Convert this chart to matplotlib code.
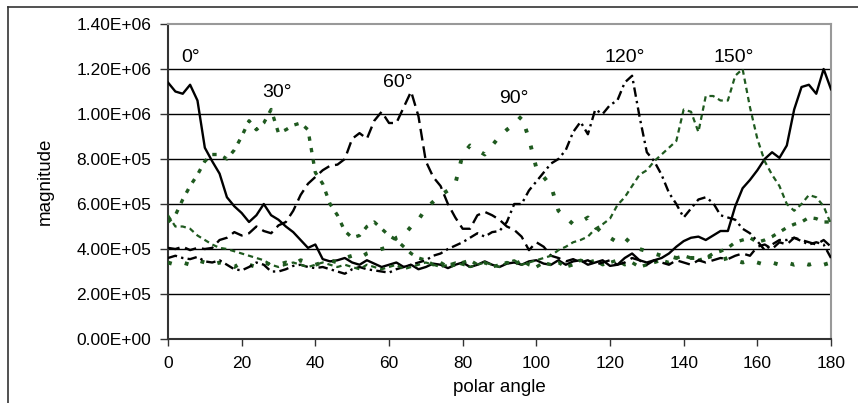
import numpy as np
import matplotlib
matplotlib.use("Agg")
import matplotlib.pyplot as plt
from matplotlib.ticker import FuncFormatter, MultipleLocator
from matplotlib.lines import Line2D

plt.rcParams['font.family'] = ['Liberation Sans', 'DejaVu Sans']

angles = np.arange(0, 181, 2)

# values in units of 1e5
mag_0 = [11.4, 11.0, 10.9, 11.3, 10.6, 8.5, 7.9, 7.35, 6.3, 5.9,
         5.6, 5.2, 5.5, 6.0, 5.5, 5.3, 5.0, 4.75, 4.4, 4.05,
         4.2, 3.55, 3.45, 3.5, 3.6, 3.4, 3.3, 3.5, 3.35, 3.2,
         3.3, 3.4, 3.2, 3.3, 3.1, 3.2, 3.35, 3.3, 3.15, 3.3,
         3.4, 3.2, 3.3, 3.45, 3.3, 3.2, 3.35, 3.4, 3.3, 3.45,
         3.5, 3.35, 3.3, 3.5, 3.3, 3.45, 3.5, 3.3, 3.4, 3.5,
         3.25, 3.3, 3.6, 3.8, 3.5, 3.4, 3.5, 3.6, 3.8, 4.1,
         4.35, 4.5, 4.55, 4.4, 4.6, 4.8, 4.8, 5.9, 6.7, 7.07,
         7.5, 8.0, 8.3, 8.05, 8.6, 10.2, 11.2, 11.3, 10.9, 12.0,
         11.1]
mag_30 = [5.2, 5.5, 6.2, 6.8, 7.3, 7.9, 8.2, 8.2, 8.0, 8.4,
          9.0, 9.7, 9.3, 9.6, 10.2, 9.15, 9.3, 9.5, 9.6, 9.3,
          7.4, 6.9, 6.0, 5.5, 4.8, 4.5, 4.6, 5.0, 5.2, 4.9,
          4.6, 4.4, 4.1, 3.8, 3.6, 3.5, 3.3, 3.4, 3.2, 3.3,
          3.4, 3.5, 3.3, 3.4, 3.2, 3.3, 3.4, 3.3, 3.5, 3.3,
          3.2, 3.4, 3.3, 3.4, 3.2, 3.3, 3.5, 3.4, 3.5, 3.3,
          3.4, 3.5, 3.3, 3.4, 3.2, 3.3, 3.4, 3.5, 3.4, 3.6,
          3.7, 3.6, 3.5, 3.6, 3.8, 3.9, 4.05, 4.3, 4.4, 4.5,
          4.3, 4.4, 4.55, 4.75, 4.95, 5.1, 5.2, 5.4, 5.35, 5.2,
          5.2]
mag_60 = [4.05, 4.0, 4.1, 3.95, 4.05, 4.0, 4.05, 4.4, 4.5, 4.75,
          4.6, 4.7, 5.0, 4.8, 4.7, 5.05, 5.2, 5.7, 6.4, 6.9,
          7.2, 7.5, 7.7, 7.75, 8.0, 8.9, 9.15, 8.9, 9.7, 10.1,
          9.6, 9.6, 10.3, 11.0, 9.9, 7.9, 7.2, 6.8, 6.0, 5.4,
          4.9, 4.9, 5.5, 5.65, 5.5, 5.3, 5.0, 4.85, 4.55, 3.95,
          4.3, 4.1, 3.7, 3.6, 3.45, 3.55, 3.4, 3.5, 3.3, 3.4,
          3.5, 3.3, 3.4, 3.6, 3.5, 3.3, 3.5, 3.4, 3.3, 3.5,
          3.4, 3.3, 3.5, 3.4, 3.5, 3.6, 3.55, 3.7, 3.8, 3.7,
          4.1, 4.2, 4.0, 4.3, 4.2, 4.5, 4.4, 4.3, 4.2, 4.4,
          4.1]
mag_90 = [3.4, 3.3, 3.4, 3.3, 3.5, 3.4, 3.3, 3.4, 3.3, 3.2,
          3.4, 3.3, 3.2, 3.4, 3.3, 3.3, 3.4, 3.3, 3.5, 3.4,
          3.3, 3.4, 3.5, 3.4, 3.6, 3.7, 3.6, 3.8, 3.9, 4.0,
          4.1, 4.5, 4.6, 5.0, 5.3, 5.8, 6.1, 6.4, 6.6, 6.9,
          8.2, 8.6, 8.4, 8.2, 8.6, 9.0, 9.3, 9.55, 9.9, 8.9,
          7.6, 7.2, 6.8, 5.7, 5.4, 5.1, 5.2, 5.4, 5.0, 4.7,
          4.5, 4.3, 4.5, 4.2, 4.0, 3.9, 3.8, 3.7, 3.7, 3.6,
          3.7, 3.6, 3.6, 3.6, 3.7, 3.5, 3.6, 3.5, 3.4, 3.5,
          3.4, 3.3, 3.4, 3.3, 3.4, 3.3, 3.4, 3.3, 3.4, 3.3,
          3.4]
mag_120 = [3.6, 3.7, 3.6, 3.55, 3.65, 3.45, 3.4, 3.5, 3.3, 3.1,
           3.05, 3.2, 3.4, 3.3, 3.0, 3.0, 3.1, 3.25, 3.3, 3.2,
           3.15, 3.2, 3.1, 3.0, 2.9, 3.1, 3.2, 3.1, 3.05, 3.0,
           2.95, 3.1, 3.2, 3.3, 3.4, 3.5, 3.7, 3.8, 4.0, 4.15,
           4.3, 4.5, 4.7, 4.55, 4.75, 4.8, 5.2, 6.0, 6.0, 6.6,
           7.0, 7.4, 7.8, 8.0, 8.4, 9.2, 9.65, 9.1, 10.2, 10.0,
           10.4, 10.6, 11.4, 11.7, 9.9, 8.3, 7.9, 7.3, 6.5, 6.0,
           5.4, 5.8, 6.2, 6.3, 6.05, 5.5, 5.4, 5.3, 4.9, 4.7,
           4.35, 3.95, 4.2, 4.4, 4.4, 4.5, 4.35, 4.2, 4.3, 4.2,
           3.6]
mag_150 = [5.5, 5.0, 5.0, 4.9, 4.6, 4.4, 4.2, 4.05, 4.0, 3.9,
           3.8, 3.7, 3.6, 3.5, 3.3, 3.2, 3.3, 3.4, 3.3, 3.2,
           3.3, 3.4, 3.3, 3.2, 3.3, 3.2, 3.1, 3.3, 3.2, 3.1,
           3.2, 3.3, 3.1, 3.2, 3.3, 3.4, 3.3, 3.2, 3.3, 3.4,
           3.3, 3.2, 3.3, 3.4, 3.3, 3.2, 3.4, 3.5, 3.3, 3.4,
           3.5, 3.6, 3.7, 3.95, 4.1, 4.3, 4.4, 4.55, 4.9, 5.1,
           5.35, 5.95, 6.3, 6.8, 7.3, 7.5, 7.9, 8.2, 8.5, 8.8,
           10.2, 10.1, 9.2, 10.8, 10.8, 10.6, 10.6, 11.7, 12.0, 10.3,
           8.9, 7.9, 7.3, 6.8, 6.0, 5.7, 6.0, 6.4, 6.3, 5.9,
           5.1]

labels = ["0°", "30°", "60°", "90°", "120°", "150°"]
label_x = [3.5, 25.5, 58.5, 90.0, 118.5, 148.0]
label_y = [1.25e6, 1.095e6, 1.138e6, 1.067e6, 1.249e6, 1.249e6]

green = '#1f5a1f'
styles = [
    dict(color='black', lw=1.7, ls='-'),
    dict(color=green, lw=2.4, ls=(0, (1.3, 2.2))),
    dict(color='black', lw=1.7, ls=(0, (5, 2.5))),
    dict(color=green, lw=2.8, ls=(0, (1.0, 3.5))),
    dict(color='black', lw=1.7, ls=(0, (4, 1.8, 1, 1.8))),
    dict(color=green, lw=1.6, ls=(0, (2.4, 1.8))),
]
series = [mag_0, mag_30, mag_60, mag_90, mag_120, mag_150]

fig = plt.figure(figsize=(8.58, 4.03), dpi=100)
ax = fig.add_axes([168/858, 1 - 339/403, 663/858, 315/403])

for yv in np.arange(2e5, 1.21e6, 2e5):
    ax.axhline(yv, color='black', lw=1.0, zorder=1)

for vals, st in zip(series, styles):
    ax.plot(angles, np.array(vals) * 1e5, zorder=3, solid_joinstyle='round', **st)

for t, x, y in zip(labels, label_x, label_y):
    ax.text(x, y, t, fontsize=14, ha='left', va='center', zorder=5)

ax.set_xlim(0, 180)
ax.set_ylim(0, 1.4e6)
ax.xaxis.set_major_locator(MultipleLocator(20))
ax.yaxis.set_major_locator(MultipleLocator(2e5))
ax.yaxis.set_major_formatter(FuncFormatter(lambda v, p: f"{v:.2E}"))
ax.tick_params(axis='y', direction='out', length=6, width=1, labelsize=12.5, pad=6, color='#333333')
ax.tick_params(axis='x', direction='out', length=5, width=1, labelsize=12.5, pad=7, color='#333333')

for s in ['top', 'right']:
    ax.spines[s].set_color('#999999')
    ax.spines[s].set_linewidth(1.5)
for s in ['left', 'bottom']:
    ax.spines[s].set_color('#333333')
    ax.spines[s].set_linewidth(1.5)

fig.text(45/858, 1 - 181/403, 'magnitude', rotation=90, ha='center', va='center', fontsize=13.5)
fig.text(499.5/858, 1 - 387/403, 'polar angle', ha='center', va='center', fontsize=13.5)

# outer chart frame (partially visible)
fig.add_artist(Line2D([8/858, 1], [1 - 7/403, 1 - 7/403], color='#333333', lw=1.2, transform=fig.transFigure))
fig.add_artist(Line2D([8/858, 8/858], [0, 1 - 7/403], color='#333333', lw=1.2, transform=fig.transFigure))

fig.savefig('out.png', dpi=100)
